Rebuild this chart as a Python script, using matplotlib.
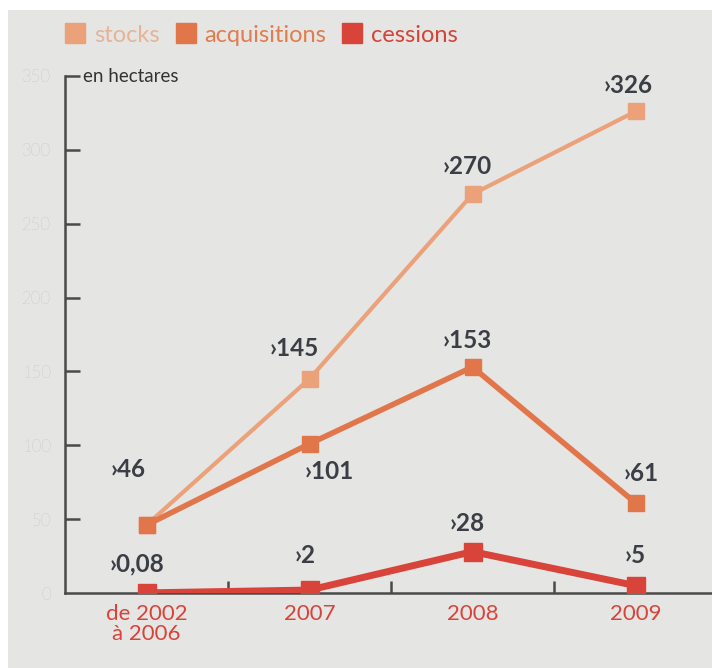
import numpy as np
import matplotlib.pyplot as plt
from matplotlib.lines import Line2D
from matplotlib.patches import Rectangle

# data (hectares)
periods = ['de 2002\nà 2006', '2007', '2008', '2009']
stocks = [46, 145, 270, 326]
acquisitions = [46, 101, 153, 61]
cessions = [0.08, 2, 28, 5]
stocks_lbl = ['46', '145', '270', '326']
acq_lbl = ['46', '101', '153', '61']
cess_lbl = ['0,08', '2', '28', '5']

c_stocks = '#eba27a'
c_acq = '#e2764b'
c_cess = '#d8433a'
c_text = '#3b3f45'
font = ['Lato', 'DejaVu Sans']

fig = plt.figure(figsize=(7.12, 6.68), dpi=100)
fig.patch.set_facecolor('white')
# paper background
fig.patches.append(Rectangle((8 / 712, 0), 1, (668 - 10) / 668, transform=fig.transFigure,
                             facecolor='#e5e5e3', edgecolor='none', zorder=-10))

ax = fig.add_axes([65 / 712, 75 / 668, 652 / 712, 517 / 668])
ax.set_facecolor('none')
x = np.arange(len(periods))

ax.plot(x, stocks, color=c_stocks, lw=3, marker='s', ms=12, zorder=3)
ax.plot(x, acquisitions, color=c_acq, lw=4, marker='s', ms=12, zorder=4)
ax.plot(x, cessions, color=c_cess, lw=5, marker='s', ms=13, zorder=5)

ax.set_xlim(-0.5, 3.5)
ax.set_ylim(0, 350)

for s in ['top', 'right']:
    ax.spines[s].set_visible(False)
for s in ['left', 'bottom']:
    ax.spines[s].set_color('#4a4a4a')
    ax.spines[s].set_linewidth(1.8)

ax.set_yticks(np.arange(0, 351, 50))
ax.set_yticklabels([str(v) for v in range(0, 351, 50)])
ax.tick_params(axis='y', direction='in', length=11, width=1.8, color='#4a4a4a',
               labelcolor='#ababab', labelsize=12, pad=10)
for t in ax.get_yticklabels():
    t.set_fontfamily(font)
    t.set_fontweight('light')
ax.yaxis.get_major_ticks()[0].tick1line.set_visible(False)

ax.set_xticks(x)
ax.set_xticklabels(periods, fontsize=16, color=c_cess, family=font, linespacing=1.0)
ax.tick_params(axis='x', length=0, pad=8)
ax.set_xticks([0.5, 1.5, 2.5], minor=True)
ax.tick_params(axis='x', which='minor', direction='in', length=9, width=1.8, color='#4a4a4a')

ax.text(0.028, 1.0, 'en hectares', transform=ax.transAxes, fontsize=13.5, color='#333333',
        va='center', ha='left', family=font)

# value labels: offsets in points from each marker
def label(xs, ys, texts, offs):
    for xi, yi, t, (dx, dy) in zip(xs, ys, texts, offs):
        ax.annotate('›' + t, (xi, yi), xytext=(dx, dy), textcoords='offset points',
                    ha='center', va='center', fontsize=17.5, fontweight='bold',
                    family=font, color=c_text, zorder=6)

label(x, stocks, stocks_lbl, [(-13, 40), (-11, 22), (-4, 20), (-5, 19)])
label(x[1:], acquisitions[1:], acq_lbl[1:], [(14, -20), (-4, 19), (4, 21)])
label(x, cessions, cess_lbl, [(-7, 21), (-3, 25), (-4, 20), (0, 22)])

handles = [Line2D([], [], marker='s', ls='none', ms=15, color=c) for c in (c_stocks, c_acq, c_cess)]
leg = fig.legend(handles, ['stocks', 'acquisitions', 'cessions'], loc='center left',
                 bbox_to_anchor=(42 / 712, 1 - 35 / 668), ncol=3, frameon=False,
                 handlelength=1.0, handletextpad=0.3, columnspacing=0.6,
                 prop={'family': font, 'size': 17})
for t, c in zip(leg.get_texts(), ('#e6b497', '#e07c4e', '#d2453a')):
    t.set_color(c)

fig.savefig('out.png', dpi=100)
